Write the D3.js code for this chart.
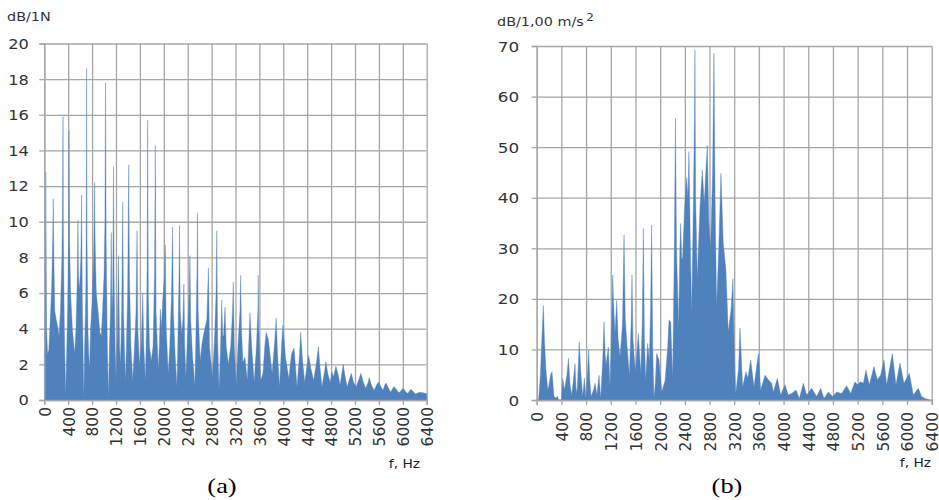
<!DOCTYPE html>
<html><head><meta charset="utf-8">
<script src="https://cdn.jsdelivr.net/npm/d3@7/dist/d3.min.js"></script>
<style>
html,body{margin:0;padding:0;background:#fff;}
svg{display:block;}
</style></head>
<body><svg id="c" width="939" height="500"></svg>
<script>
// ---- Data ----
const xTicks = [0,400,800,1200,1600,2000,2400,2800,3200,3600,4000,4400,4800,5200,5600,6000,6400];
const yTicksA = [0,2,4,6,8,10,12,14,16,18,20];
const yTicksB = [0,10,20,30,40,50,60,70];

// (a) force spectrum, dB/1N
const freqA = [0,12,25,38,55,75,100,125,140,150,160,175,200,230,247,270,295,305,313,320,335,350,358,370,390,405,413,422,440,470,508,530,550,563,572,590,612,625,635,650,663,675,695,702,708,715,730,745,758,775,800,825,835,842,850,870,900,930,953,975,1000,1015,1025,1035,1055,1075,1090,1108,1120,1132,1145,1158,1168,1185,1203,1220,1242,1260,1275,1295,1313,1325,1345,1358,1375,1395,1413,1425,1450,1480,1510,1535,1553,1565,1592,1620,1647,1665,1692,1710,1722,1730,1740,1760,1790,1820,1845,1858,1870,1908,1925,1942,1960,1980,2010,2025,2040,2075,2100,2130,2147,2160,2190,2220,2240,2255,2263,2275,2300,2320,2337,2350,2370,2400,2425,2437,2450,2480,2520,2540,2555,2563,2575,2608,2640,2680,2720,2747,2765,2813,2850,2875,2887,2900,2925,2950,2970,2985,3000,3025,3045,3080,3120,3150,3163,3180,3213,3240,3275,3287,3300,3325,3358,3397,3420,3442,3470,3513,3550,3575,3580,3590,3620,3660,3690,3713,3750,3813,3850,3880,3905,3937,3970,3992,4037,4092,4137,4180,4230,4270,4292,4320,4358,4400,4425,4460,4508,4560,4587,4615,4647,4690,4713,4750,4787,4810,4840,4880,4920,4950,4980,5003,5040,5070,5110,5137,5175,5220,5270,5298,5340,5380,5420,5437,5480,5520,5570,5592,5640,5670,5700,5720,5770,5800,5840,5858,5910,5940,5990,6008,6060,6085,6120,6137,6190,6215,6260,6287,6340,6400];
const dbA = [2.5,4.8,12.8,4.0,2.6,2.8,4.5,6.5,9,11.3,8,5,4.5,4.0,3.6,5,8,11,15.9,9,4,1.5,0.3,2,5,9,15.1,9,6,4,2.6,4,6.5,10.1,7,6.2,8,11.5,6,2.5,0.2,3,6,10,18.6,9,4,2.5,1.8,4,5.5,8,10,12.2,9,6,5,3.8,3.6,5,7,10,17.8,9,3,0.2,3,5,9.4,5,6,13.1,7,3,1.0,3.5,8.1,3,2,5,11.1,5,2.5,1.1,3,6,13.2,7,3,1.1,3,5,9.5,4,2,3,6.0,3,1.1,4,8,15.7,6,3,2.2,3,7,14.3,5,1.7,3,5.1,4,5.5,7,8.7,4,1.5,3,6,9.7,5,2.5,0.75,4,7,9.8,5,3.7,4.5,6.5,3,1.3,4,6,8.1,4.5,2.5,0.8,4,7,10.5,5,2.2,3.2,3.9,4.5,7.4,3,1.3,3.5,6,9.5,3.5,0.6,3,5.6,3.6,3.6,5.2,3,2.0,3,5,6.6,3,0.8,3,5,7.0,4,2.1,2.4,1.1,3,4.9,3,1.0,3,5,7.0,4,1.1,1.5,3,3.8,3.4,1.5,3,4.6,2.5,0.75,3,4.2,2.4,1.2,2.6,2.9,0.75,2.5,3.8,2.3,1.0,2,2.5,1.8,1.1,2.2,3.0,1.8,0.75,1.6,2.15,1.4,1.0,1.6,1.3,1.9,1.4,0.85,1.5,2.0,1.2,0.75,1.2,1.5,1.0,0.75,1.2,1.5,1.0,0.65,1.0,1.25,0.8,0.55,0.9,1.0,0.7,0.55,0.85,0.95,0.6,0.45,0.7,0.75,0.5,0.4,0.6,0.65,0.42,0.37,0.55,0.6,0.4,0.34,0.4,0.43,0.4,0.35];

// (b) acceleration spectrum, dB/1,00 m/s²
const freqB = [0,30,60,90,108,125,150,180,200,225,248,265,280,310,340,355,400,421,450,490,515,540,567,595,621,640,659,690,712,745,772,800,825,842,860,880,920,945,975,1010,1037,1070,1091,1110,1123,1161,1188,1215,1231,1250,1269,1296,1320,1350,1390,1415,1435,1458,1501,1530,1544,1560,1577,1600,1647,1685,1710,1728,1745,1766,1798,1825,1845,1862,1880,1900,1920,1944,1982,2025,2079,2120,2144,2171,2203,2230,2248,2265,2299,2320,2332,2350,2364,2397,2429,2450,2467,2490,2510,2540,2555,2564,2575,2602,2645,2683,2715,2740,2764,2790,2818,2850,2872,2890,2915,2950,2985,3023,3066,3104,3150,3180,3200,3224,3270,3294,3337,3391,3420,3467,3521,3591,3629,3699,3753,3807,3835,3899,3953,4023,4077,4131,4201,4255,4320,4374,4455,4536,4601,4655,4725,4795,4860,4941,5022,5087,5157,5195,5249,5292,5335,5389,5465,5519,5573,5627,5670,5762,5821,5886,5951,6037,6102,6183,6237,6291,6372,6400];
const dbB = [0,0,5,14,18.7,12,6,2,3,5,5.6,3,0.7,0.4,0.7,0,0,4.3,2,5,8.3,3,1.0,4,7.2,1.3,2.6,11.5,6,0.7,4.3,0.1,6,9.9,4,0.7,2,3.3,1,4.9,0.3,8,15.5,9,6.9,10.5,2.6,15,24.7,18,13.2,19.7,12,8.6,15,32.6,16,11.8,4.9,15,24.7,12,9,5.6,13.2,5.3,15,33.9,12,3.9,11.2,7.9,18,34.6,10,0.5,3,9.2,7.9,1.6,3.8,10,15.8,15.4,4.4,30,55.7,30,14.5,30,34.9,28,28,38.2,44,40,49.1,30,17.1,40,55,69.2,40,24,38,45.5,38.9,45,50.4,35,30,45,68.6,40,18.5,30,44.8,31,25.7,13.5,18,24,10,1.3,6,14.2,2.6,5.6,4.3,7.9,2.6,9.2,2,4.9,4,3.3,1.6,4.3,1,3,1,1.3,2,0.3,3.3,1,2.3,0.7,2.3,0.3,1.6,0.7,1.6,1.3,2.8,1.3,3.6,3,3.6,3.3,5.9,3,6.6,4,4.9,7.9,3,9.2,3,7.3,3.3,5.3,1,2.3,0.7,0.3,0,0];

// ---- Drawing ----
const svg = d3.select("#c");
const SX = 1.2;          // horizontal text stretch of the original picture
const SXR = 1.05;        // stretch for rotated tick labels
const FILL = "#4f81bd";
const GRID = "#a6a6a6";
const TXT = "#333333";

function panel(cfg){
  const g = svg.append("g");
  const x = d3.scaleLinear().domain([0,6400]).range([cfg.x0, cfg.x1]);
  const y = d3.scaleLinear().domain([0, cfg.ymax]).range([cfg.yb, cfg.yt]);

  // grid
  g.append("g").attr("transform",`translate(0,${cfg.yb})`)
    .call(d3.axisBottom(x).tickValues(xTicks).tickSize(-(cfg.yb-cfg.yt)).tickFormat(""))
    .call(s=>s.select(".domain").remove())
    .call(s=>s.selectAll("line").attr("stroke",GRID).attr("stroke-width",1.3));
  g.append("g").attr("transform",`translate(${cfg.x0},0)`)
    .call(d3.axisLeft(y).tickValues(cfg.yTicks).tickSize(-(cfg.x1-cfg.x0)).tickFormat(""))
    .call(s=>s.select(".domain").remove())
    .call(s=>s.selectAll("line").attr("stroke",GRID).attr("stroke-width",1.3));

  // area
  const pts = cfg.freq.map((f,i)=>[f, cfg.vals[i]]);
  g.append("path").datum(pts)
    .attr("fill",FILL).attr("stroke",FILL).attr("stroke-width",0.4)
    .attr("d", d3.area().x(d=>x(d[0])).y0(y(0)).y1(d=>y(d[1])).curve(d3.curveLinear));

  // y axis
  const ya = g.append("g").attr("transform",`translate(${cfg.x0},0)`)
    .call(d3.axisLeft(y).tickValues(cfg.yTicks).tickSize(5).tickPadding(0).tickFormat(d3.format("d")));
  ya.select(".domain").attr("stroke",GRID).attr("stroke-width",1.3);
  ya.selectAll("line").attr("stroke",GRID).attr("stroke-width",1.3);
  ya.selectAll("text")
    .attr("x", -cfg.ylabGap/SX).attr("dy","0.36em")
    .attr("transform",`scale(${SX},1)`)
    .attr("fill",TXT).style("font-family","DejaVu Sans").style("font-size",cfg.yfs+"px");

  // x axis
  const xa = g.append("g").attr("transform",`translate(0,${cfg.yb})`)
    .call(d3.axisBottom(x).tickValues(xTicks).tickSize(5).tickPadding(0).tickFormat(d3.format("d")));
  xa.select(".domain").attr("stroke",GRID).attr("stroke-width",1.3);
  xa.selectAll("line").attr("stroke",GRID).attr("stroke-width",1.3);
  xa.selectAll("text")
    .attr("y",0).attr("x",-cfg.xlabGap).attr("dy","0.36em")
    .attr("text-anchor","end")
    .attr("transform",`scale(${SXR},1) rotate(-90)`)
    .attr("fill",TXT).style("font-family","DejaVu Sans").style("font-size","15.5px");

  // titles
  const t = g.append("text").attr("transform",`translate(${cfg.tx},${cfg.ty}) scale(${SX},1)`)
    .attr("fill",TXT).style("font-family","DejaVu Sans").style("font-size","12px");
  t.append("tspan").text(cfg.title);
  if (cfg.sup) t.append("tspan").attr("dx","2").attr("dy","-5").style("font-size","10px").text(cfg.sup);

  g.append("text").attr("transform",`translate(${cfg.fx},${cfg.fy}) scale(${SX},1)`)
    .attr("text-anchor","end").attr("fill","#202030")
    .style("font-family","DejaVu Sans").style("font-size","11.5px").text("f, Hz");

  g.append("text").attr("transform",`translate(${cfg.lx},${cfg.ly}) scale(${SX},1)`)
    .attr("text-anchor","middle").attr("fill","#000")
    .style("font-family","Liberation Serif").style("font-size","22px").text(cfg.letter);
}

panel({x0:44.3, x1:426.7, yt:43.5, yb:400, ymax:20, yTicks:yTicksA, freq:freqA, vals:dbA,
       ylabGap:15.5, yfs:13.5, xlabGap:7, title:"dB/1N", sup:null, tx:7, ty:21,
       fx:420, fy:468, lx:222, ly:493, letter:"(a)"});
panel({x0:536.7, x1:931.7, yt:46, yb:400, ymax:70, yTicks:yTicksB, freq:freqB, vals:dbB,
       ylabGap:17.5, yfs:14, xlabGap:12, title:"dB/1,00 m/s", sup:"2", tx:497, ty:26,
       fx:931, fy:467, lx:727, ly:493, letter:"(b)"});
</script>
</body></html>
